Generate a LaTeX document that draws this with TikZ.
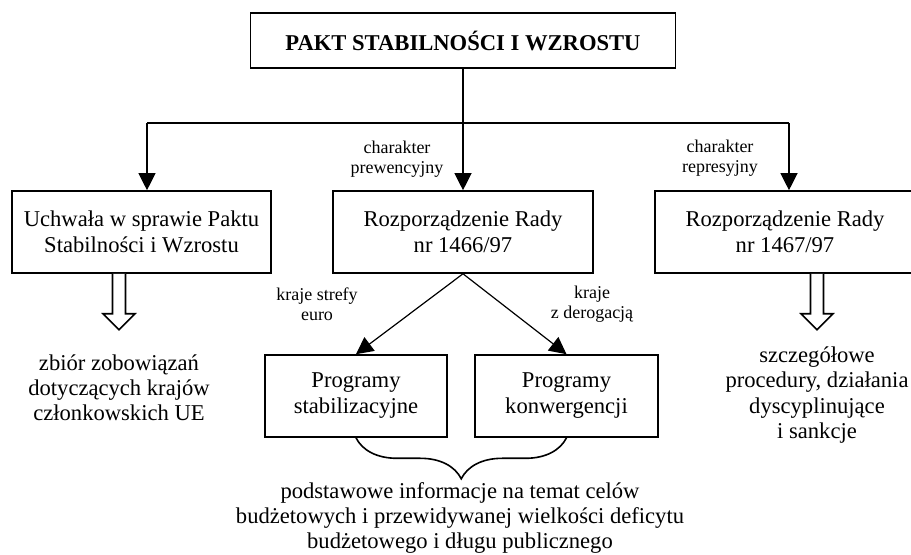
\documentclass[tikz,border=0pt]{standalone}
\usepackage{fontspec}
\setmainfont{Liberation Serif}
\usetikzlibrary{positioning,calc,arrows.meta,decorations.pathreplacing}
\definecolor{LineBlack}{HTML}{000000}

\begin{document}
\begin{tikzpicture}[x=0.5pt,y=-0.5pt,
    box/.style={draw=LineBlack, line width=0.8pt, align=center, inner sep=0pt,
      minimum height=41pt, font=\fontsize{11.3}{13}\selectfont},
    note/.style={align=center, inner sep=0pt, font=\fontsize{9}{10}\selectfont},
    body/.style={align=center, inner sep=0pt, font=\fontsize{11.3}{12.6}\selectfont},
    link/.style={draw=LineBlack, line width=0.6pt, -{Triangle[length=8.5pt,width=8.5pt]}},
    hollow/.style={draw=LineBlack, line width=0.8pt, fill=white, line join=miter}]
        \useasboundingbox (0,0) rectangle (911,555);
        \node[box, font=\fontsize{11.3}{13}\selectfont\bfseries, minimum width=212.5pt, minimum height=27.5pt] (pakt) at (463,40.5) {PAKT STABILNOŚCI I WZROSTU};
        \node[box, minimum width=129.5pt] (uchwala) at (141.5,232) {Uchwała w sprawie Paktu\\Stabilności i Wzrostu};
        \node[box, minimum width=130pt] (rr1466) at (463,232) {Rozporządzenie Rady\\nr 1466/97};
        \node[box, minimum width=130pt] (rr1467) at (785,232) {Rozporządzenie Rady\\nr 1467/97};
        \node[box, minimum width=91pt] (prog1) at (356,396) {Programy\\stabilizacyjne};
        \node[box, minimum width=91.5pt] (prog2) at (566.5,396) {Programy\\konwergencji};
        \node[note] (prew) at (397,159) {charakter\\prewencyjny};
        \node[note] (repr) at (720,158) {charakter\\represyjny};
        \node[note] (euro) at (317,304) {kraje strefy\\euro};
        \node[note] (derog) at (592,304) {kraje\\z derogacją};
        \node[body] (zbior) at (119,388) {zbiór zobowiązań\\dotyczących krajów\\członkowskich UE};
        \node[body] (sankcje) at (817,395) {szczegółowe\\procedury, działania\\dyscyplinujące\\i sankcje};
        \node[body] (info) at (460,518) {podstawowe informacje na temat celów\\budżetowych i przewidywanej wielkości deficytu\\budżetowego i długu publicznego};
        \coordinate (jl) at (147,123);
        \coordinate (jr) at (789,123);
        \draw[draw=LineBlack, line width=0.6pt] (jl) -- (jr);
        \draw[link] (pakt.south) -- (pakt.south |- rr1466.north);
        \draw[link] (jl) -- (jl |- uchwala.north);
        \draw[link] (jr) -- (jr |- rr1467.north);
        \draw[link] (rr1466.south) -- (prog1.north);
        \draw[link] (rr1466.south) -- (prog2.north);
        \foreach \n/\d in {uchwala/-22.5,rr1467/32} {
          \draw[hollow] ($(\n.south)+(\d,0)$) ++(-6.5,0) -- ++(0,40) -- ++(-9.5,0)
            -- ++(16,16) -- ++(16,-16) -- ++(-9.5,0) -- ++(0,-40);
        }
        \draw[draw=LineBlack, line width=0.8pt, decorate,
          decoration={brace, mirror, amplitude=20.5pt}] (prog1.south) -- (prog2.south);
      \end{tikzpicture}
\end{document}
